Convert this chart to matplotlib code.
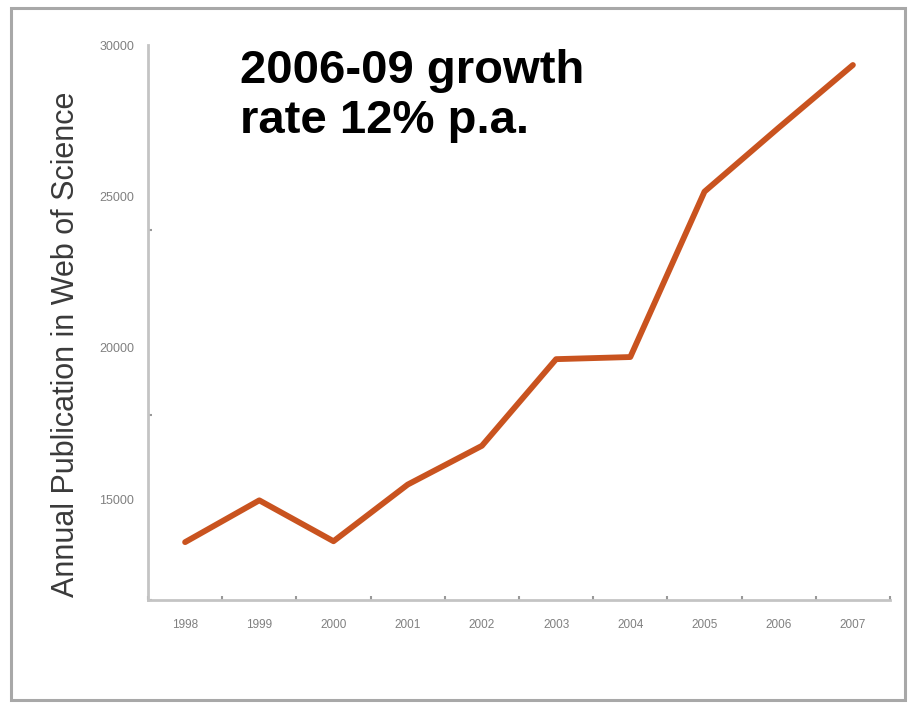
import matplotlib
matplotlib.use("Agg")
import matplotlib.pyplot as plt
from matplotlib.patches import Rectangle
import numpy as np

years = [1998, 1999, 2000, 2001, 2002, 2003, 2004, 2005, 2006, 2007]
publications = [13590, 14970, 13620, 15490, 16770, 19630, 19700, 25160, 27270, 29340]
ytick_values = [15000, 20000, 25000, 30000]
ytick_labels = ["15000", "20000", "25000", "30000"]
ylabel = "Annual Publication in Web of Science"
note = "2006-09 growth\nrate 12% p.a."

plt.rcParams['font.family'] = ['Liberation Sans', 'DejaVu Sans']

fig = plt.figure(figsize=(9.08, 7.04), dpi=100)
fig.patch.set_facecolor('white')
ax = fig.add_axes([148/908, 1-600/704, 742/908, 555/704])

ax.plot(years, publications, color='#C9531F', lw=4.2, solid_joinstyle='round', solid_capstyle='round')

ymin, ymax = 11680, 30000
ax.set_xlim(1997.5, 2007.5)
ax.set_ylim(ymin, ymax)

ax.set_xticks(years)
ax.set_xticklabels([str(y) for y in years], fontsize=8.5, color='#808080')
ax.set_xticks(np.arange(1997.5, 2008.0, 1.0), minor=True)
ax.set_yticks(ytick_values)
ax.set_yticklabels(ytick_labels, fontsize=9, color='#808080')
ax.set_yticks(np.linspace(ymin, ymax, 4), minor=True)
ax.tick_params(axis='x', which='major', length=0, pad=14)
ax.tick_params(axis='y', which='major', length=0, pad=10)
ax.tick_params(which='minor', length=3, color='#999999', width=1.5, direction='in')

for s in ['top', 'right']:
    ax.spines[s].set_visible(False)
for s in ['left', 'bottom']:
    ax.spines[s].set_color('#c4c4c4')
    ax.spines[s].set_linewidth(2)

ax.set_ylabel(ylabel, fontsize=22, color='#3a3a3a')
ax.yaxis.set_label_coords(-0.09, 0.46)

fig.text(240/908, 1-49/704, note, fontsize=34, fontweight='bold', color='black',
         va='top', ha='left', linespacing=1.19)

fig.patches.append(Rectangle((11/908, 4/704), 894/908, 692/704, transform=fig.transFigure,
                             fill=False, edgecolor='#a8a8a8', lw=2.2))

fig.savefig('out.png', dpi=100)
